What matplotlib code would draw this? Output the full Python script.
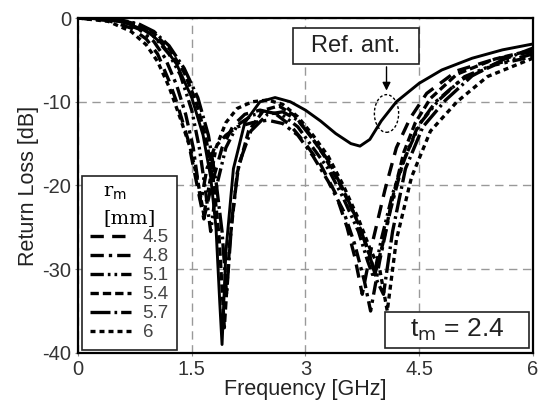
import matplotlib
matplotlib.use('Agg')
import matplotlib.pyplot as plt
from matplotlib.lines import Line2D
from matplotlib.patches import Ellipse, Rectangle

plt.rcParams['font.family'] = ['Liberation Sans', 'DejaVu Sans']
plt.rcParams['axes.unicode_minus'] = False

# return loss curves for different r_m values (frequency in GHz, RL in dB)
f_45 = [0, 0.4, 0.7, 0.9, 1.05, 1.2, 1.3, 1.45, 1.56, 1.66, 1.76, 1.9, 2.05, 2.2, 2.4, 2.6, 2.8, 3.0, 3.2, 3.4, 3.55, 3.65, 3.75, 3.88, 4.05, 4.2, 4.38, 4.6, 5.0, 5.5, 6.0]
rl_45 = [0, -0.3, -1.2, -2.5, -4.3, -7.5, -10, -14.5, -19.5, -24, -20, -15.5, -12.8, -11.5, -11, -11.4, -12.8, -15, -17.5, -21, -25, -28.5, -33, -27, -20.5, -15.5, -12, -9, -6.3, -4.9, -4]

f_48 = [0, 0.5, 0.8, 1.0, 1.15, 1.3, 1.42, 1.52, 1.62, 1.7, 1.8, 1.95, 2.1, 2.3, 2.5, 2.7, 2.9, 3.1, 3.3, 3.5, 3.65, 3.78, 3.86, 3.98, 4.12, 4.28, 4.48, 4.72, 5.05, 5.5, 6.0]
rl_48 = [0, -0.3, -1.3, -2.8, -4.8, -8, -11.5, -15.5, -22, -18, -15.5, -14, -13, -12.5, -12.2, -12.6, -14, -16.5, -19.5, -23, -27, -31.5, -35, -29, -23, -17.5, -13, -10, -7.4, -5.6, -4.6]

f_51 = [0, 0.5, 0.8, 1.0, 1.2, 1.35, 1.5, 1.6, 1.68, 1.75, 1.83, 1.95, 2.1, 2.3, 2.5, 2.7, 2.9, 3.1, 3.3, 3.5, 3.7, 3.82, 3.9, 4.0, 4.15, 4.32, 4.52, 4.76, 5.1, 5.5, 6.0]
rl_51 = [0, -0.2, -1.0, -2.2, -4.3, -6.8, -11, -15.5, -20.5, -25.5, -20, -15.5, -12.8, -11.6, -11.2, -11.6, -13, -15.5, -18, -21.5, -25.5, -29, -31, -26.5, -21, -16.5, -12.5, -9.8, -7, -5.5, -4.3]

f_54 = [0, 0.5, 0.8, 1.0, 1.2, 1.4, 1.55, 1.68, 1.78, 1.86, 1.93, 2.0, 2.1, 2.25, 2.45, 2.65, 2.85, 3.05, 3.25, 3.45, 3.65, 3.8, 3.92, 4.02, 4.15, 4.3, 4.45, 4.65, 5.0, 5.5, 6.0]
rl_54 = [0, -0.1, -0.8, -1.8, -3.6, -6.5, -9.8, -14, -19, -26, -37, -27, -18.5, -13.5, -11, -10.5, -11.6, -13.8, -16.5, -19.8, -23.5, -27, -30.5, -27, -21.5, -16, -12.5, -9.6, -6.7, -4.9, -3.8]

f_57 = [0, 0.5, 0.8, 1.0, 1.2, 1.4, 1.58, 1.72, 1.82, 1.9, 1.96, 2.03, 2.12, 2.28, 2.5, 2.7, 2.9, 3.1, 3.3, 3.5, 3.7, 3.85, 3.95, 4.03, 4.15, 4.32, 4.55, 4.85, 5.2, 5.6, 6.0]
rl_57 = [0, -0.1, -0.7, -1.6, -3.3, -6, -9.5, -14, -19.5, -25.5, -33, -24, -17.5, -13.5, -11.5, -11.2, -12.2, -14.5, -17, -20.5, -24.5, -28.5, -31.5, -33, -25.5, -18, -13, -9.8, -6.9, -5, -3.6]

f_6 = [0, 0.4, 0.7, 0.9, 1.05, 1.2, 1.35, 1.48, 1.58, 1.66, 1.73, 1.82, 1.95, 2.1, 2.3, 2.5, 2.7, 2.9, 3.1, 3.3, 3.5, 3.7, 3.85, 3.98, 4.08, 4.2, 4.4, 4.65, 5.0, 5.4, 6.0]
rl_6 = [0, -0.4, -1.6, -3.2, -5.2, -8.2, -12, -15.5, -19.5, -23.5, -20, -15.5, -12.5, -10.8, -10, -9.8, -10.3, -11.8, -14, -16.5, -20, -24, -27.5, -30, -35, -26.5, -19, -13.5, -10, -7, -4.8]

# reference antenna
f_ref = [0, 0.3, 0.6, 0.9, 1.1, 1.3, 1.5, 1.65, 1.75, 1.82, 1.87, 1.9, 1.95, 2.05, 2.2, 2.4, 2.6, 2.8, 3.0, 3.2, 3.4, 3.6, 3.72, 3.85, 4.0, 4.2, 4.5, 4.8, 5.2, 5.6, 6.0]
rl_ref = [0, -0.1, -0.5, -1.5, -3.0, -5.5, -9.5, -14, -19, -25, -34, -39, -28, -18, -12.5, -10, -9.5, -10, -11, -12.3, -13.8, -15, -15.3, -14.5, -12.3, -10, -7.8, -6.2, -4.8, -3.8, -3.1]

labels = ['4.5', '4.8', '5.1', '5.4', '5.7', '6']
freqs = [f_45, f_48, f_51, f_54, f_57, f_6]
losses = [rl_45, rl_48, rl_51, rl_54, rl_57, rl_6]
dash_styles = [(4, 2.5), (4, 1.5, 1, 1.5), (4, 1.2, 0.8, 1.2, 0.8, 1.2),
               (2.5, 1.2), (6, 1.2, 0.8, 1.2), (1.5, 1.2)]

fig = plt.figure(figsize=(5.42, 4.01), dpi=100)
ax = fig.add_axes([0.144, 0.12, 0.839, 0.835])

handles = []
for f, rl, lab, ds in zip(freqs, losses, labels, dash_styles):
    ax.plot(f, rl, color='black', lw=2.4, dashes=ds, solid_capstyle='butt')
    handles.append(Line2D([], [], color='black', lw=2.4, dashes=ds, label=lab))
ax.plot(f_ref, rl_ref, color='black', lw=2.1)

ax.set_xlim(0, 6)
ax.set_ylim(-40, 0)
ax.set_xticks([0, 1.5, 3, 4.5, 6])
ax.set_xticklabels(['0', '1.5', '3', '4.5', '6'])
ax.set_yticks([0, -10, -20, -30, -40])
ax.tick_params(labelsize=14.5, labelcolor='#333333', length=2, color='#888888', pad=3)
for s in ax.spines.values():
    s.set_linewidth(1.6)
ax.grid(True, color='#999999', lw=1.0, dashes=(6, 4))
ax.set_axisbelow(True)
ax.set_xlabel('Frequency [GHz]', fontsize=15.5, color='#222222', labelpad=0)
ax.set_ylabel('Return Loss [dB]', fontsize=15.5, color='#222222', labelpad=2)

leg = ax.legend(handles=handles, loc='lower left', bbox_to_anchor=(0.008, 0.01),
                borderaxespad=0, title='r$_\\mathrm{m}$\n[mm]', fontsize=13.5,
                handlelength=2.2, handletextpad=0.6, labelspacing=0.1,
                fancybox=False, edgecolor='#222222', framealpha=1,
                alignment='center', borderpad=0.45)
leg.get_frame().set_linewidth(1.2)
leg.get_title().set_fontfamily('DejaVu Serif')
leg.get_title().set_fontsize(14)
leg.get_title().set_linespacing(1.5)
for t in leg.get_texts():
    t.set_color('#444444')

# annotation for the reference antenna
ax.add_patch(Rectangle((2.83, -5.5), 1.67, 4.3, fill=True, fc='white', ec='#222222', lw=1.2, zorder=5))
ax.text(3.66, -3.3, 'Ref. ant.', fontsize=17, ha='center', va='center', color='#222222', zorder=6)
ax.annotate('', xy=(4.07, -9.0), xytext=(4.07, -5.5),
            arrowprops=dict(arrowstyle='-|>', color='black', lw=1.0, mutation_scale=12))
ax.add_patch(Ellipse((4.07, -11.4), 0.32, 4.5, fill=False, ec='black', lw=1.0, ls=(0, (2, 1.5))))

ax.add_patch(Rectangle((4.05, -39.4), 1.9, 4.3, fill=True, fc='white', ec='#222222', lw=1.2, zorder=5))
ax.text(5.0, -37.25, 't$_\\mathrm{m}$ = 2.4', fontsize=19, ha='center', va='center', color='#222222', zorder=6)

fig.savefig('out.png', dpi=100)
